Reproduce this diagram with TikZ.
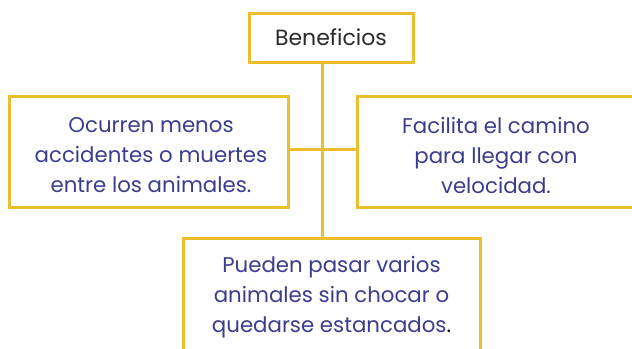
\documentclass[tikz,border=0pt]{standalone}
\usepackage{fontspec}
\setmainfont{Poppins}
\definecolor{boxyellow}{HTML}{ECBE2C}
\definecolor{txtblue}{HTML}{3B3D8D}
\definecolor{txtgray}{HTML}{2A2A2A}
\begin{document}
\begin{tikzpicture}[x=1bp,y=-1bp,
  framebox/.style={draw=boxyellow, line width=3bp, fill=white, inner sep=0pt},
  bodytext/.style={align=center, text=txtblue, inner sep=0pt,
    font=\fontsize{21.3bp}{30bp}\selectfont},
  titlebox/.style={draw=boxyellow, line width=3bp, fill=white,
    text=txtgray, font=\fontsize{22bp}{26bp}\selectfont, inner sep=0pt,
    minimum width=164bp, minimum height=49bp},
  link/.style={draw=boxyellow, line width=3bp}
]
\useasboundingbox (0,0) rectangle (632,348);
\clip (0,0) rectangle (632,348);
\coordinate (vx) at (322,0);
\coordinate (hy) at (0,149);
\node[titlebox] (top) at (331,37.5) {Beneficios};
\node[framebox, minimum width=278bp, minimum height=111bp] (left) at (149,151.5) {};
\node[bodytext] (lefttext) at (151,155)
  {Ocurren menos\\accidentes o muertes\\entre los animales.};
\node[framebox, minimum width=278bp, minimum height=111bp] (right) at (496,152) {};
\node[bodytext] (righttext) at (496,155)
  {Facilita el camino\\para llegar con\\velocidad.};
\node[framebox, minimum width=297bp, minimum height=130bp] (bottom) at (331.5,303) {};
\node[bodytext] (bottomtext) at (331.5,297)
  {Pueden pasar varios\\animales sin chocar o\\quedarse estancados{\color{black}.}};
\draw[link] (top.south -| vx) -- (bottom.north -| vx);
\draw[link] (left.east |- hy) -- (right.west |- hy);
\end{tikzpicture}
\end{document}
